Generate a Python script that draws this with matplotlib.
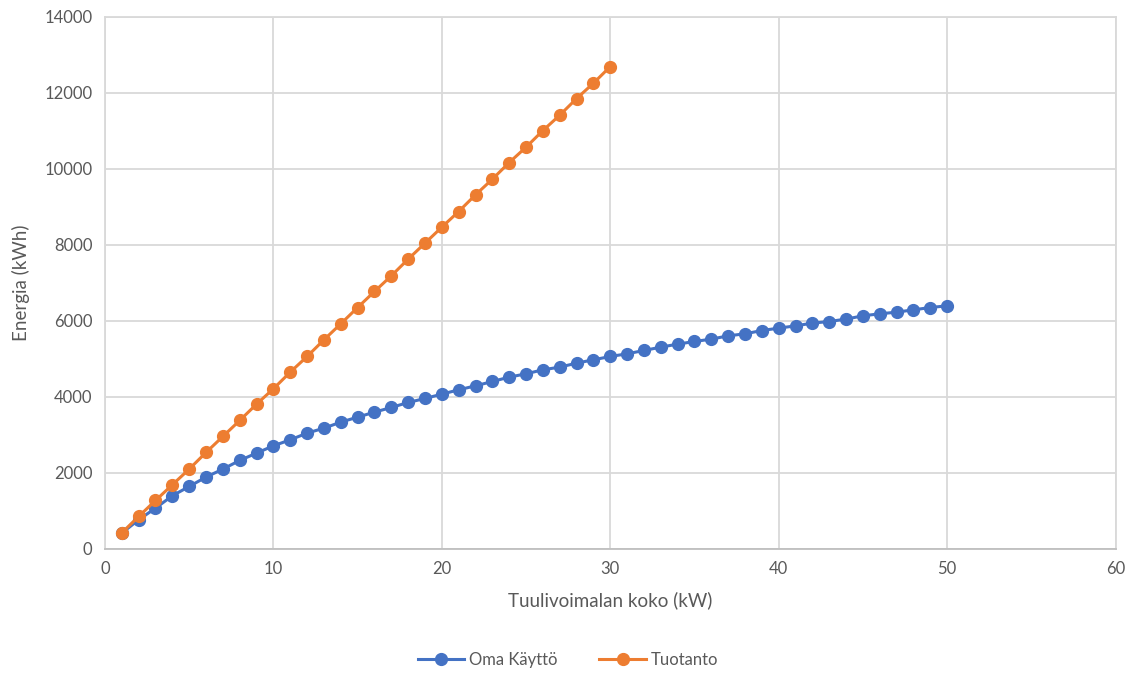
import numpy as np
import matplotlib.pyplot as plt

plt.rcParams['font.family'] = ['Lato', 'DejaVu Sans']

# Tuulivoimalan koko (kW) ja energiat (kWh)
koko_oma = list(range(1, 51))
oma_kaytto = [413, 763, 1070, 1395, 1640, 1887, 2097, 2325, 2518, 2710,
              2868, 3044, 3175, 3333, 3465, 3596, 3719, 3851, 3956, 4070,
              4184, 4289, 4403, 4518, 4605, 4711, 4781, 4886, 4974, 5061,
              5132, 5219, 5307, 5386, 5456, 5518, 5605, 5658, 5745, 5807,
              5868, 5939, 5982, 6045, 6132, 6184, 6228, 6289, 6350, 6395]

koko_tuotanto = list(range(1, 31))
tuotanto = [420, 850, 1271, 1684, 2097, 2535, 2956, 3377, 3807, 4211,
            4649, 5061, 5500, 5921, 6350, 6772, 7184, 7623, 8044, 8465,
            8877, 9316, 9728, 10166, 10570, 11008, 11412, 11850, 12254, 12692]

grey = '#595959'
gridc = '#d9d9d9'

fig = plt.figure(figsize=(11.36, 6.75), dpi=100)
ax = fig.add_axes([0.0924, 0.187, 0.8896, 0.788])

ax.plot(koko_oma, oma_kaytto, color='#4472C4', lw=2.2, marker='o', ms=8.5,
        label='Oma Käyttö', zorder=3)
ax.plot(koko_tuotanto, tuotanto, color='#ED7D31', lw=2.2, marker='o', ms=8.5,
        label='Tuotanto', zorder=4)

ax.set_xlim(0, 60)
ax.set_ylim(0, 14000)
ax.set_xticks(np.arange(0, 61, 10))
ax.set_yticks(np.arange(0, 14001, 2000))
ax.grid(True, color=gridc, lw=1.3)
ax.set_axisbelow(True)
for s in ax.spines.values():
    s.set_color(gridc)
    s.set_linewidth(1.3)
ax.spines['bottom'].set_color('#bfbfbf')
ax.tick_params(length=0, labelsize=12, colors=grey, pad=9)

ax.set_xlabel('Tuulivoimalan koko (kW)', fontsize=13.5, color=grey, labelpad=10)
ax.set_ylabel('Energia (kWh)', fontsize=13.5, color=grey, labelpad=10)

fig.legend(loc='lower center', bbox_to_anchor=(0.5, -0.012), ncol=2, frameon=False,
           fontsize=12, labelcolor=grey, handlelength=2.8, handletextpad=0.3,
           columnspacing=2.5)

fig.savefig('out.png', dpi=100)
